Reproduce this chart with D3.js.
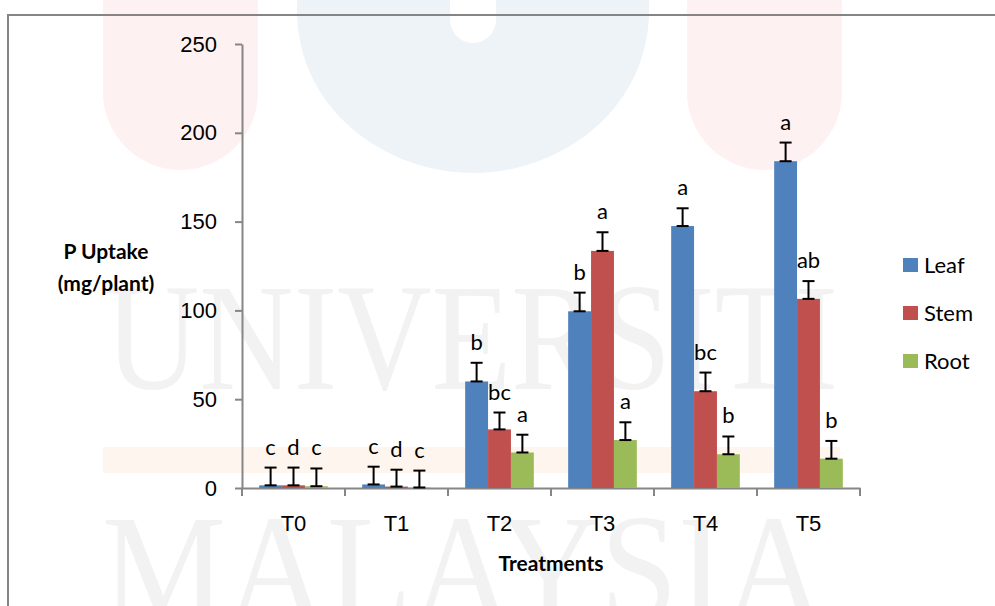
<!DOCTYPE html>
<html>
<head>
<meta charset="utf-8">
<script src="https://cdn.jsdelivr.net/npm/d3@7"></script>
<style>
  html, body { margin: 0; padding: 0; background: #fff; }
  svg { display: block; font-family: Lato, "Open Sans", sans-serif; }
</style>
</head>
<body>
<div id="chart"></div>
<script>
// values (mg/plant)
const treatments = ["T0", "T1", "T2", "T3", "T4", "T5"];
const parts = ["Leaf", "Stem", "Root"];
const leafValues = [1.5, 2, 60, 99.5, 147.5, 184];
const stemValues = [1.5, 0.8, 33, 133.5, 54.5, 106.5];
const rootValues = [1, 0.3, 20, 27, 19, 16.5];
const leafErrors = [10, 10, 10.5, 10.5, 10, 10.5];
const stemErrors = [10, 9.5, 9.5, 10.5, 10.5, 10];
const rootErrors = [10, 9.5, 10, 10, 10, 10];
const leafLetters = ["c", "c", "b", "b", "a", "a"];
const stemLetters = ["d", "d", "bc", "a", "bc", "ab"];
const rootLetters = ["c", "c", "a", "a", "b", "b"];
const yTicks = [0, 50, 100, 150, 200, 250];
const partColors = ["#4F81BD", "#C0504D", "#9BBB59"];

const width = 995, height = 606;
const margin = {left: 242, right: 135, top: 44, bottom: 118};

const svg = d3.select("#chart").append("svg")
  .attr("width", width)
  .attr("height", height);

// faint watermark behind the chart
const wm = svg.append("g").attr("class", "watermark");
wm.append("path").attr("fill", "#fdf1f1")
  .attr("d", "M103,0 H258 V92 A77.5,78 0 0 1 103,92 Z");
wm.append("path").attr("fill", "#fdf1f1")
  .attr("d", "M687,0 H842 V92 A77.5,78 0 0 1 687,92 Z");
wm.append("path").attr("fill", "#eef3f8")
  .attr("d", "M297,0 H649 V10 C649,110 560,173 473,173 C386,173 297,110 297,10 Z");
wm.append("path").attr("fill", "#ffffff")
  .attr("d", "M450,0 H496 V20 A23,23 0 0 1 450,20 Z");
wm.append("rect").attr("fill", "#fef6ee")
  .attr("x", 103).attr("y", 447).attr("width", 737).attr("height", 26);
wm.append("text")
  .attr("x", 105).attr("y", 389)
  .attr("textLength", 733).attr("lengthAdjust", "spacingAndGlyphs")
  .style("font-family", "'Liberation Serif', serif")
  .style("font-size", "152px")
  .attr("fill", "#f2f2f2")
  .text("UNIVERSITI");
wm.append("text")
  .attr("x", 102).attr("y", 620)
  .attr("textLength", 723).attr("lengthAdjust", "spacingAndGlyphs")
  .style("font-family", "'Liberation Serif', serif")
  .style("font-size", "152px")
  .attr("fill", "#f2f2f2")
  .text("MALAYSIA");

// chart frame (only top and left edges are visible)
svg.append("path")
  .attr("d", "M8,606 V15 H995")
  .attr("fill", "none")
  .attr("stroke", "#858585")
  .attr("stroke-width", 2);

const x0 = d3.scaleBand()
  .domain(treatments)
  .range([margin.left, width - margin.right]);

const bw = x0.bandwidth();
const x1 = d3.scaleBand()
  .domain(parts)
  .range([bw / 6, bw * 5 / 6]);

const y = d3.scaleLinear()
  .domain([0, 250])
  .range([height - margin.bottom, margin.top]);

const rows = treatments.map((t, i) => ({
  treatment: t,
  values: [
    {part: "Leaf", value: leafValues[i], err: leafErrors[i], letter: leafLetters[i]},
    {part: "Stem", value: stemValues[i], err: stemErrors[i], letter: stemLetters[i]},
    {part: "Root", value: rootValues[i], err: rootErrors[i], letter: rootLetters[i]}
  ]
}));
const color = d3.scaleOrdinal().domain(parts).range(partColors);

// axes
const yAxis = svg.append("g")
  .attr("transform", `translate(${margin.left},0)`)
  .call(d3.axisLeft(y).tickValues(yTicks).tickSize(7).tickPadding(18).tickSizeOuter(0));
const xAxis = svg.append("g")
  .attr("transform", `translate(0,${y(0)})`)
  .call(d3.axisBottom(x0).tickSize(0).tickPadding(27));

yAxis.select(".domain").attr("stroke", "#868686").attr("stroke-width", 2);
yAxis.selectAll(".tick line").attr("stroke", "#868686").attr("stroke-width", 2);
yAxis.selectAll(".tick text")
  .style("font-size", "22px").attr("fill", "#000");

xAxis.select(".domain").attr("stroke", "#868686").attr("stroke-width", 2);
xAxis.selectAll(".tick text")
  .style("font-size", "22px").attr("fill", "#000");

// category separator ticks on the x axis
const edges = treatments.map(t => x0(t)).concat([x0.range()[1]]);
svg.append("g").selectAll("line")
  .data(edges)
  .join("line")
  .attr("x1", d => d).attr("x2", d => d)
  .attr("y1", y(0)).attr("y2", y(0) + 8)
  .attr("stroke", "#868686")
  .attr("stroke-width", 2);

// bars
const groups = svg.append("g").selectAll("g")
  .data(rows)
  .join("g")
  .attr("transform", d => `translate(${x0(d.treatment)},0)`);

groups.selectAll("rect")
  .data(d => d.values)
  .join("rect")
  .attr("x", d => x1(d.part))
  .attr("y", d => y(d.value))
  .attr("width", x1.bandwidth())
  .attr("height", d => y(0) - y(d.value))
  .attr("fill", d => color(d.part));

// error bars (upper only)
const capHalf = 6;
const errs = groups.selectAll("g.err")
  .data(d => d.values)
  .join("g")
  .attr("class", "err")
  .attr("transform", d => `translate(${x1(d.part) + x1.bandwidth() / 2},0)`);

errs.append("line")
  .attr("x1", 0).attr("x2", 0)
  .attr("y1", d => y(d.value))
  .attr("y2", d => y(d.value + d.err));
errs.append("line")
  .attr("x1", -capHalf).attr("x2", capHalf)
  .attr("y1", d => y(d.value + d.err))
  .attr("y2", d => y(d.value + d.err));
errs.append("line")
  .attr("x1", -capHalf).attr("x2", capHalf)
  .attr("y1", d => y(d.value))
  .attr("y2", d => y(d.value));
errs.selectAll("line")
  .attr("stroke", "#000")
  .attr("stroke-width", 2);

// significance letters
errs.append("text")
  .attr("x", 0)
  .attr("y", d => y(d.value + d.err) - 13)
  .attr("text-anchor", "middle")
  .style("font-size", "22px")
  .attr("fill", "#000")
  .text(d => d.letter);

// axis titles
const yTitle = svg.append("text")
  .attr("text-anchor", "middle")
  .style("font-size", "21px")
  .style("font-weight", "bold");
yTitle.append("tspan").attr("x", 106).attr("y", 259).text("P Uptake");
yTitle.append("tspan").attr("x", 106).attr("y", 291).text("(mg/plant)");

svg.append("text")
  .attr("x", (x0.range()[0] + x0.range()[1]) / 2)
  .attr("y", 571)
  .attr("text-anchor", "middle")
  .style("font-size", "21px")
  .style("font-weight", "bold")
  .text("Treatments");

// legend
const legend = svg.append("g")
  .attr("transform", "translate(903,258)")
  .selectAll("g")
  .data(parts)
  .join("g")
  .attr("transform", (d, i) => `translate(0,${i * 48})`);
legend.append("rect")
  .attr("width", 15).attr("height", 14)
  .attr("fill", d => color(d));
legend.append("text")
  .attr("x", 21).attr("y", 15)
  .style("font-size", "22px")
  .text(d => d);
</script>
</body>
</html>
